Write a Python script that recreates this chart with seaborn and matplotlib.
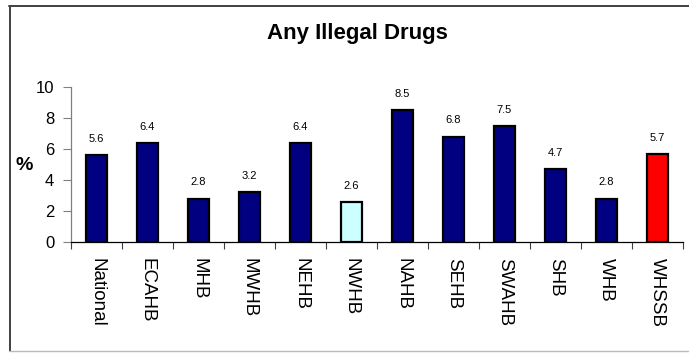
import matplotlib
matplotlib.use("Agg")
import matplotlib.pyplot as plt
from matplotlib.lines import Line2D
import seaborn as sns
import pandas as pd

regions = ["National", "ECAHB", "MHB", "MWHB", "NEHB", "NWHB",
           "NAHB", "SEHB", "SWAHB", "SHB", "WHB", "WHSSB"]
percent = [5.6, 6.4, 2.8, 3.2, 6.4, 2.6, 8.5, 6.8, 7.5, 4.7, 2.8, 5.7]
bar_colors = ["#000080", "#000080", "#000080", "#000080", "#000080", "#CCFFFF",
              "#000080", "#000080", "#000080", "#000080", "#000080", "#FF0000"]
yticks = [0, 2, 4, 6, 8, 10]

sns.set_theme(style="white")
plt.rcParams["font.family"] = ["Liberation Sans", "DejaVu Sans"]
plt.rcParams["text.color"] = "black"
plt.rcParams["ytick.labelcolor"] = "black"

df = pd.DataFrame({"region": regions, "pct": percent})

W, H = 689, 354
fig = plt.figure(figsize=(W / 100, H / 100), dpi=100)
ax = fig.add_axes([71 / W, 1 - 242 / H, (683 - 71) / W, (242 - 87) / H])

sns.barplot(data=df, x="region", y="pct", hue="region",
            palette=dict(zip(regions, bar_colors)), legend=False,
            saturation=1, width=0.43, edgecolor="black", linewidth=1.6, ax=ax)

for i, v in enumerate(percent):
    ax.annotate(f"{v:.1f}", (i, v), xytext=(0, 8), textcoords="offset points",
                ha="center", va="bottom", fontsize=8, color="black")

ax.set_xlim(-0.5, len(regions) - 0.5)
ax.set_ylim(0, 10)
ax.set_yticks(yticks)
ax.set_yticklabels([str(t) for t in yticks], fontsize=12)
ax.set_xlabel("")
ax.set_ylabel("")

# category separators as ticks on the x axis
ax.set_xticks([i - 0.5 for i in range(len(regions) + 1)])
ax.set_xticklabels([])
ax.tick_params(axis="x", direction="out", length=5,
               width=0.8, color="#404040", bottom=True)
ax.tick_params(axis="y", direction="out", length=6, width=0.8,
               color="#808080", left=True, pad=6)
for i, name in enumerate(regions):
    ax.text(i, -1.05, name, rotation=-90, ha="center", va="top",
            fontsize=13.5, color="black", transform=ax.transData)

for s in ["top", "right"]:
    ax.spines[s].set_visible(False)
ax.spines["left"].set_color("#808080")
ax.spines["left"].set_linewidth(0.9)
ax.spines["bottom"].set_color("black")
ax.spines["bottom"].set_linewidth(0.9)

fig.text(357 / W, 1 - 33 / H, "Any Illegal Drugs", ha="center", va="center",
         fontsize=16, fontweight="bold")
fig.text(24 / W, 1 - 166 / H, "%", ha="center", va="center",
         fontsize=14, fontweight="bold")

# chart frame
fig.add_artist(Line2D([9 / W, 1.0], [1 - 5.5 / H, 1 - 5.5 / H],
                      transform=fig.transFigure, color="#404040", lw=1.4))
fig.add_artist(Line2D([9.5 / W, 9.5 / W], [1 - 5.5 / H, 1 - 351 / H],
                      transform=fig.transFigure, color="#404040", lw=1.4))
fig.add_artist(Line2D([9 / W, 1.0], [1 - 351 / H, 1 - 351 / H],
                      transform=fig.transFigure, color="#BBBBBB", lw=1.0))

fig.savefig("out.png", dpi=100)
